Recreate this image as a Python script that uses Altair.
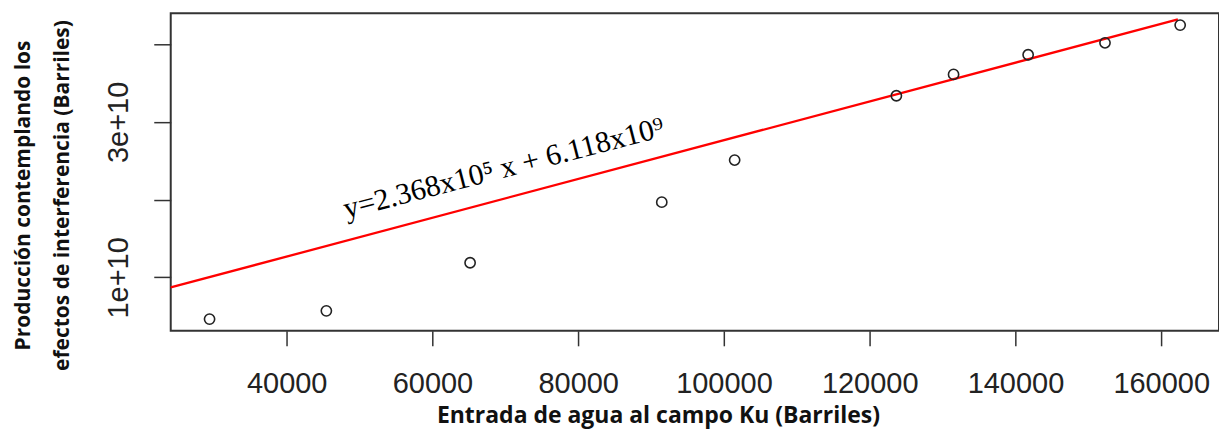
import altair as alt
import pandas as pd

x_vals = [29411, 45438, 65164, 91466, 101466, 123658, 131507, 141740, 152288, 162603]
y_vals = [0.464e10, 0.570e10, 1.188e10, 1.968e10, 2.509e10, 3.336e10, 3.611e10, 3.863e10, 4.017e10, 4.245e10]

# Fitted red line as drawn (endpoints)
line_x = [24083, 162288]
line_y = [0.871e10, 4.318e10]

# Annotation
eq_text = ["y=2.368x10\u2075 x + 6.118x10\u2079"]
eq_x = [69800]
eq_y = [2.40e10]

x_ticks = [40000, 60000, 80000, 100000, 120000, 140000, 160000]
y_ticks = [1e10, 2e10, 3e10, 4e10]

x_domain = [24083, 167931]
y_domain = [0.313e10, 4.396e10]

pts = pd.DataFrame({"x": x_vals, "y": y_vals})
ln = pd.DataFrame({"x": line_x, "y": line_y})
ann = pd.DataFrame({"x": eq_x, "y": eq_y, "t": eq_text})

xs = alt.Scale(domain=x_domain, nice=False, zero=False)
ys = alt.Scale(domain=y_domain, nice=False, zero=False)

x_axis = alt.Axis(
    values=x_ticks, format="d", grid=False, domain=False,
    tickSize=15, tickColor="#333", tickWidth=1.5,
    labelFont="Liberation Sans", labelFontSize=29, labelColor="#222",
    labelPadding=24, labelFlush=False,
    title="Entrada de agua al campo Ku (Barriles)",
    titleFont="Open Sans", titleFontSize=23, titleFontWeight="bold", titleColor="#111",
    titleX=488, titleY=92, titleAlign="center", titleBaseline="alphabetic", titleAnchor="start",
)
y_axis = alt.Axis(
    values=y_ticks, grid=False, domain=False,
    labelExpr="datum.value == 1e10 ? '1e+10' : (datum.value == 3e10 ? '3e+10' : '')",
    tickSize=17, tickColor="#333", tickWidth=1.5,
    labelFont="Liberation Sans", labelFontSize=29, labelColor="#222",
    labelAngle=270, labelAlign="center", labelBaseline="alphabetic",
    labelPadding=26, labelFlush=False,
    title=["Producción contemplando los", "efectos de interferencia (Barriles)"],
    titleFont="Open Sans", titleFontSize=21, titleFontWeight="bold", titleColor="#111",
    titleLineHeight=39, titleAngle=270,
    titleX=-147, titleY=182, titleAlign="center", titleBaseline="middle", titleAnchor="start",
)

points = alt.Chart(pts).mark_point(
    shape="circle", filled=False, size=105, strokeWidth=1.6, color="#222", opacity=1
).encode(
    x=alt.X("x:Q", scale=xs, axis=x_axis),
    y=alt.Y("y:Q", scale=ys, axis=y_axis),
)

line = alt.Chart(ln).mark_line(color="#ff0000", strokeWidth=2.3).encode(
    x=alt.X("x:Q", scale=xs), y=alt.Y("y:Q", scale=ys)
)

text = alt.Chart(ann).mark_text(
    font="Liberation Serif", fontSize=30, angle=345.5, align="center", baseline="middle", color="#000"
).encode(
    x=alt.X("x:Q", scale=xs), y=alt.Y("y:Q", scale=ys), text="t:N"
)

chart = alt.layer(line, points, text).properties(
    width=1050, height=318,
    background="white",
    autosize=alt.AutoSizeParams(type="none"),
    padding={"left": 163, "top": 5, "right": 0, "bottom": 100},
).configure_view(stroke="#333", strokeWidth=2)

chart.save("out.html", embed_options={"renderer": "svg", "actions": False})
